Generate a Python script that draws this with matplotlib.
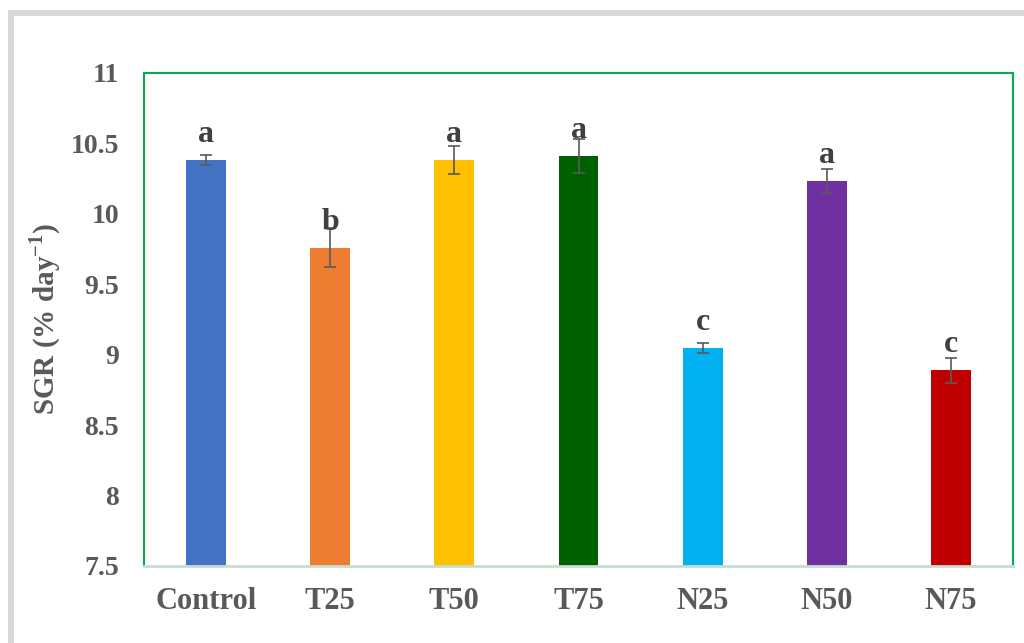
import matplotlib.pyplot as plt
from matplotlib.patches import Rectangle

categories = ["Control", "T25", "T50", "T75", "N25", "N50", "N75"]
sgr = [10.38, 9.76, 10.38, 10.41, 9.05, 10.23, 8.89]
err = [0.035, 0.14, 0.10, 0.12, 0.035, 0.085, 0.09]
letters = ["a", "b", "a", "a", "c", "a", "c"]
colors = ["#4472C4", "#ED7D31", "#FFC000", "#006100", "#00B0F0", "#7030A0", "#C00000"]
yticks = [7.5, 8, 8.5, 9, 9.5, 10, 10.5, 11]
ytick_labels = ["7.5", "8", "8.5", "9", "9.5", "10", "10.5", "11"]

plt.rcParams["font.family"] = ["Liberation Serif", "DejaVu Serif"]
plt.rcParams["font.weight"] = "bold"
plt.rcParams["mathtext.fontset"] = "custom"
plt.rcParams["mathtext.rm"] = "Liberation Serif:bold"
plt.rcParams["mathtext.bf"] = "Liberation Serif:bold"
plt.rcParams["axes.unicode_minus"] = False

fig = plt.figure(figsize=(10.24, 6.43), dpi=100)
ax = fig.add_axes([144 / 1024, 1 - 566 / 643, 869 / 1024, 493 / 643])

x = range(len(categories))
ax.bar(x, sgr, width=0.32, color=colors, zorder=2)
ax.errorbar(x, sgr, yerr=err, fmt="none", ecolor="#595959", elinewidth=1.2,
            capsize=4.5, capthick=1.2, zorder=3)

# significance letters above each bar
for i, (v, lab) in enumerate(zip(sgr, letters)):
    ax.annotate(lab, xy=(i, v), xytext=(0, 13), textcoords="offset points",
                ha="center", va="baseline", fontsize=23, fontweight="bold",
                color="#404040", zorder=4)

ax.set_ylim(7.5, 11)
ax.set_xlim(-0.5, len(categories) - 0.5)
ax.set_yticks(yticks)
ax.set_yticklabels(ytick_labels)
ax.set_xticks(list(x))
ax.set_xticklabels(categories)
ax.tick_params(axis="y", length=0, pad=18, labelsize=20, labelcolor="#595959")
ax.tick_params(axis="x", length=0, pad=15, labelsize=22, labelcolor="#595959")
for t in ax.get_xticklabels() + ax.get_yticklabels():
    t.set_fontweight("bold")

ax.set_ylabel("SGR (% day$^{\\mathrm{-1}}$)", fontsize=21, fontweight="bold", color="#595959")
ax.yaxis.set_label_coords(-0.093, 0.5)

for s in ["left", "top", "right"]:
    ax.spines[s].set_color("#00B050")
    ax.spines[s].set_linewidth(1.5)
ax.spines["bottom"].set_color("#C5DED0")
ax.spines["bottom"].set_linewidth(2)

# light grey chart-area frame (cropped at right and bottom)
fig.patches.append(Rectangle((11 / 1024, -0.1), 1.2, 1.1 - 13.5 / 643,
                             transform=fig.transFigure, fill=False,
                             edgecolor="#D9D9D9", linewidth=4.3, clip_on=False))

fig.savefig("out.png", dpi=100)
